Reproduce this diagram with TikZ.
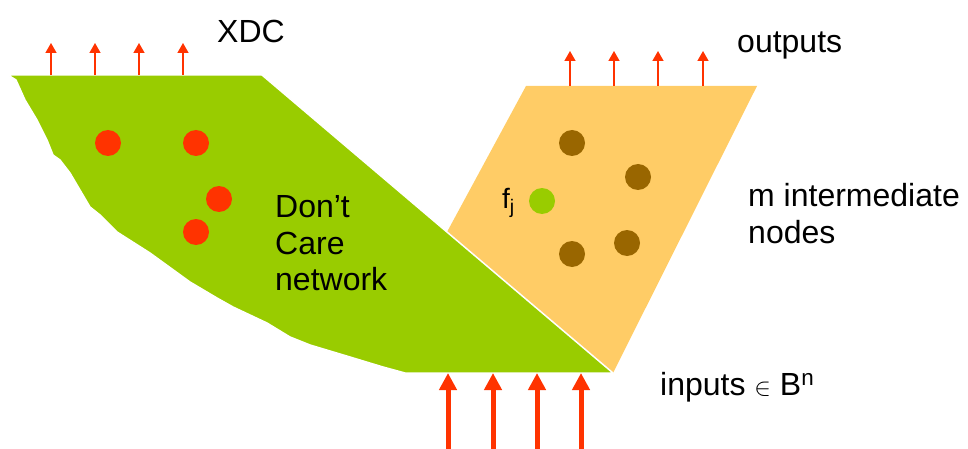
\documentclass[tikz,border=0pt]{standalone}
\usepackage{fontspec}
\setmainfont{Liberation Sans}
\usetikzlibrary{arrows.meta}

\definecolor{dcgreen}{RGB}{153,204,0}
\definecolor{midorange}{RGB}{255,204,102}
\definecolor{sigred}{RGB}{255,51,0}
\definecolor{dotbrown}{RGB}{153,102,0}

\tikzset{
  thinarrow/.style={draw=sigred, line width=1.5pt, -{Triangle[width=11pt,length=10pt]}},
  fatarrow/.style={draw=sigred, line width=5pt, -{Triangle[width=17pt,length=17pt]}},
  dot/.style={circle, inner sep=0pt, minimum size=26pt},
  lbl/.style={anchor=base west, inner sep=0pt, font=\fontsize{32}{37}\selectfont}
}

\begin{document}
\begin{tikzpicture}[x=1pt, y=-1pt]
\useasboundingbox (0,0) rectangle (968,449);

% Intermediate nodes block
\fill[midorange] (526,86) -- (757,86) -- (613,373) -- (447,232) -- cycle;

% Don't care network
\filldraw[fill=dcgreen, draw=white, line width=1.5pt, line join=round]
  (8,75) -- (262,75) -- (613,373) -- (405,373) -- (383,367) -- (350,357)
  -- (310,345) -- (290,337) -- (267,323) -- (233,307) -- (217,298)
  -- (190,282) -- (150,253) -- (117,232) -- (100,215) -- (90,207)
  -- (80,190) -- (70,173) -- (60,160) -- (53,155) -- (47,140) -- (37,120)
  -- (25,100) -- (16,80) -- cycle;

% Dots
\node[dot, fill=sigred] (x1) at (108,143) {};
\node[dot, fill=sigred] (x2) at (196,143) {};
\node[dot, fill=sigred] (x3) at (219,199) {};
\node[dot, fill=sigred] (x4) at (196,232) {};

\node[dot, fill=dotbrown] (m1) at (572,143) {};
\node[dot, fill=dotbrown] (m2) at (638,177) {};
\node[dot, fill=dotbrown] (m3) at (627,243) {};
\node[dot, fill=dotbrown] (m4) at (572,254) {};
\node[dot, fill=dcgreen] (fj) at (542,201) {};

% Arrow ends
\coordinate (xa1) at (51,75);  \coordinate (xb1) at (51,43);
\coordinate (xa2) at (95,75);  \coordinate (xb2) at (95,43);
\coordinate (xa3) at (139,75); \coordinate (xb3) at (139,43);
\coordinate (xa4) at (183,75); \coordinate (xb4) at (183,43);

\coordinate (oa1) at (570,86); \coordinate (ob1) at (570,51);
\coordinate (oa2) at (614,86); \coordinate (ob2) at (614,51);
\coordinate (oa3) at (658,86); \coordinate (ob3) at (658,51);
\coordinate (oa4) at (703,86); \coordinate (ob4) at (703,51);

\coordinate (ia1) at (448,449); \coordinate (ib1) at (448,373);
\coordinate (ia2) at (493,449); \coordinate (ib2) at (493,373);
\coordinate (ia3) at (537,449); \coordinate (ib3) at (537,373);
\coordinate (ia4) at (581,449); \coordinate (ib4) at (581,373);

% Arrows
\draw[thinarrow] (xa1) -- (xb1);
\draw[thinarrow] (xa2) -- (xb2);
\draw[thinarrow] (xa3) -- (xb3);
\draw[thinarrow] (xa4) -- (xb4);

\draw[thinarrow] (oa1) -- (ob1);
\draw[thinarrow] (oa2) -- (ob2);
\draw[thinarrow] (oa3) -- (ob3);
\draw[thinarrow] (oa4) -- (ob4);

\draw[fatarrow] (ia1) -- (ib1);
\draw[fatarrow] (ia2) -- (ib2);
\draw[fatarrow] (ia3) -- (ib3);
\draw[fatarrow] (ia4) -- (ib4);

% Labels
\node[lbl] (xdc) at (217,43) {XDC};
\node[lbl] (outs) at (737,53) {outputs};
\node[lbl] (mid1) at (748,206) {m intermediate};
\node[lbl] (mid2) at (748,243) {nodes};
\node[lbl] (dc1) at (275,217) {Don't};
\node[lbl] (dc2) at (275,254) {Care};
\node[lbl] (dc3) at (275,290) {network};
\node[lbl] (ins) at (660,395) {inputs {\fontsize{28}{28}\selectfont$\in$} B\textsuperscript{n}};
\node[lbl, font=\fontsize{28}{32}\selectfont] (fjl) at (502,208) {f\textsubscript{j}};

\end{tikzpicture}
\end{document}
